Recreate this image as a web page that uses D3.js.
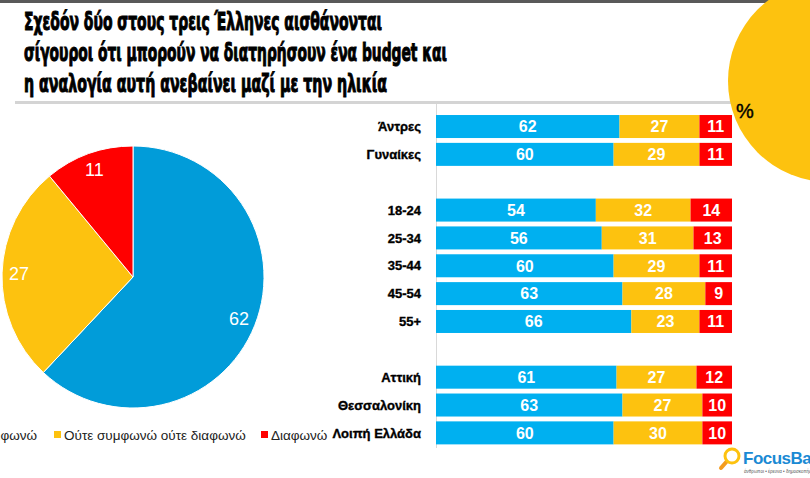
<!DOCTYPE html>
<html>
<head>
<meta charset="utf-8">
<script src="https://cdn.jsdelivr.net/npm/d3@7"></script>
<style>
  body { margin: 0; background: #fff; }
  svg { display: block; font-family: "Liberation Sans", Arial, sans-serif; }
</style>
</head>
<body>
<div id="chart"></div>
<script>
const width = 810,
  height = 478;

// data
const titleLines = [
  "Σχεδόν δύο στους τρεις Έλληνες αισθάνονται",
  "σίγουροι ότι μπορούν να διατηρήσουν ένα budget και",
  "η αναλογία αυτή ανεβαίνει μαζί με την ηλικία"
];
const titleWidths = [358, 423, 363];

const seriesNames = ["Συμφωνώ", "Ούτε συμφωνώ ούτε διαφωνώ", "Διαφωνώ"];
const pieColors = ["#019cd9", "#fdc20f", "#ff0000"];
const barColors = ["#00b0f0", "#fdc20f", "#ff0000"];

const pieValues = [62, 27, 11];

// null = empty row between groups
const rowLabels = ["Άντρες", "Γυναίκες", null, "18-24", "25-34", "35-44", "45-54", "55+", null, "Αττική", "Θεσσαλονίκη", "Λοιπή Ελλάδα"];
const agree    = [62, 60, null, 54, 56, 60, 63, 66, null, 61, 63, 60];
const neutral  = [27, 29, null, 32, 31, 29, 28, 23, null, 27, 27, 30];
const disagree = [11, 11, null, 14, 13, 11,  9, 11, null, 12, 10, 10];

const svg = d3.select("#chart")
  .append("svg")
  .attr("width", width)
  .attr("height", height);

// top band + underline
svg.append("rect").attr("x", 0).attr("y", 0).attr("width", width).attr("height", 3).attr("fill", "#595959");
svg.append("rect").attr("x", 15).attr("y", 101).attr("width", 720).attr("height", 3).attr("fill", "#d4d4d4");

// yellow circle top right
svg.append("circle")
  .attr("cx", 829)
  .attr("cy", 81)
  .attr("r", 101)
  .attr("fill", "#fdc20f");

svg.append("text")
  .attr("x", 736)
  .attr("y", 118)
  .attr("font-size", 20)
  .attr("fill", "#000")
  .attr("stroke", "#000")
  .attr("stroke-width", 0.4)
  .text("%");

// title
svg.append("g")
  .selectAll("text")
  .data(titleLines)
  .join("text")
  .attr("x", 24)
  .attr("y", (d, i) => 30 + i * 31)
  .attr("font-size", 24)
  .attr("font-weight", 700)
  .attr("fill", "#000")
  .attr("stroke", "#000")
  .attr("stroke-width", 1)
  .attr("textLength", (d, i) => titleWidths[i])
  .attr("lengthAdjust", "spacingAndGlyphs")
  .style("font-family", "'Liberation Sans Narrow', 'DejaVu Sans Condensed', 'Liberation Sans', sans-serif")
  .text(d => d);

// pie
const pieR = 131;
const pieG = svg.append("g").attr("transform", "translate(133,277)");
const pie = d3.pie().sort(null).value(d => d);
const arc = d3.arc().innerRadius(0).outerRadius(pieR);
const labelArc = d3.arc().innerRadius(114).outerRadius(114);
const arcs = pie(pieValues);

pieG.selectAll("path")
  .data(arcs)
  .join("path")
  .attr("d", arc)
  .attr("fill", (d, i) => pieColors[i])
  .attr("stroke", "#fff")
  .attr("stroke-width", 1);

pieG.selectAll("text")
  .data(arcs)
  .join("text")
  .attr("transform", d => `translate(${labelArc.centroid(d)})`)
  .attr("text-anchor", "middle")
  .attr("dy", "0.36em")
  .attr("font-size", 18)
  .attr("fill", "#fff")
  .text(d => d.data);

// legend
const legendX = [-33, 54, 261];
const legend = svg.append("g").attr("transform", "translate(0,435)");
const li = legend.selectAll("g")
  .data(seriesNames)
  .join("g")
  .attr("transform", (d, i) => `translate(${legendX[i]},0)`);
li.append("rect")
  .attr("x", 0).attr("y", -4)
  .attr("width", 7).attr("height", 7)
  .attr("fill", (d, i) => pieColors[i]);
li.append("text")
  .attr("x", 10)
  .attr("dy", "0.35em")
  .attr("font-size", 13.5)
  .attr("fill", "#222")
  .text(d => d);

// stacked bars
const xScale = d3.scaleLinear().domain([0, 100]).range([436, 732]);
const yScale = d3.scaleBand()
  .domain(d3.range(rowLabels.length))
  .range([112.6, 446.8])
  .paddingInner(0.174)
  .paddingOuter(0.087);

const rows = rowLabels.map((label, i) => ({ label, i, values: [agree[i], neutral[i], disagree[i]] }))
  .filter(d => d.label !== null);

svg.append("line")
  .attr("x1", 436.5).attr("x2", 436.5)
  .attr("y1", 104).attr("y2", 448)
  .attr("stroke", "#d9d9d9")
  .attr("stroke-width", 1);

const rowG = svg.append("g")
  .selectAll("g")
  .data(rows)
  .join("g")
  .attr("transform", d => `translate(0,${yScale(d.i)})`);

rowG.append("text")
  .attr("x", 421)
  .attr("y", yScale.bandwidth() / 2)
  .attr("dy", "0.36em")
  .attr("text-anchor", "end")
  .attr("font-size", 13)
  .attr("font-weight", 700)
  .attr("fill", "#000")
  .attr("stroke", "#000")
  .attr("stroke-width", 0.35)
  .text(d => d.label);

rowG.each(function(d) {
  let acc = 0;
  const segs = d.values.map((v, k) => {
    const s = { v, k, x0: acc, x1: acc + v };
    acc += v;
    return s;
  });
  const g = d3.select(this);
  g.selectAll("rect")
    .data(segs)
    .join("rect")
    .attr("x", s => xScale(s.x0))
    .attr("width", s => xScale(s.x1) - xScale(s.x0))
    .attr("y", 0)
    .attr("height", yScale.bandwidth())
    .attr("fill", s => barColors[s.k]);
  g.selectAll("text.val")
    .data(segs)
    .join("text")
    .attr("class", "val")
    .attr("x", s => (xScale(s.x0) + xScale(s.x1)) / 2)
    .attr("y", yScale.bandwidth() / 2)
    .attr("dy", "0.36em")
    .attr("text-anchor", "middle")
    .attr("font-size", 16)
    .attr("font-weight", 700)
    .attr("fill", "#fff")
    .text(s => s.v);
});

// logo
const logo = svg.append("g").attr("transform", "translate(732,456)");
logo.append("line")
  .attr("x1", -4).attr("y1", 4).attr("x2", -11).attr("y2", 12)
  .attr("stroke", "#f39c1f").attr("stroke-width", 4).attr("stroke-linecap", "round");
logo.append("circle")
  .attr("r", 7)
  .attr("fill", "#fff")
  .attr("stroke", "#fdc20f")
  .attr("stroke-width", 3);
logo.append("text")
  .attr("x", 11).attr("y", 8)
  .attr("font-size", 17)
  .attr("font-weight", 700)
  .attr("fill", "#1a8ad4")
  .attr("letter-spacing", -0.5)
  .text("FocusBari");
logo.append("text")
  .attr("x", 12).attr("y", 17)
  .attr("font-size", 4.5)
  .attr("fill", "#555")
  .text("άνθρωποι • έρευνα • δημοσκοπήσεις");
</script>
</body>
</html>
